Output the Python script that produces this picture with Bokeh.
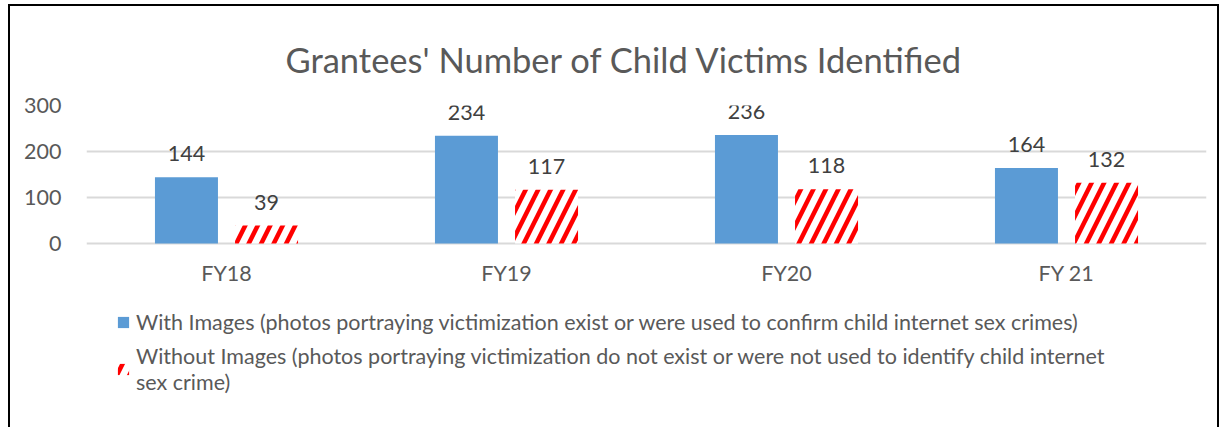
from bokeh.plotting import figure
from bokeh.models import ColumnDataSource, FactorRange, Legend, LegendItem, LabelSet
from bokeh.core.properties import value
from bokeh.transform import dodge
from bokeh.embed import file_html
from bokeh.resources import INLINE

categories = ["FY18", "FY19", "FY20", "FY 21"]
with_images = [144, 234, 236, 164]
without_images = [39, 117, 118, 132]
y_ticks = [0, 100, 200, 300]
title_text = "Grantees' Number of Child Victims Identified"
label_with = "With Images (photos portraying victimization exist or were used to confirm child internet sex crimes)"
label_without = ("Without Images (photos portraying victimization do not exist or were not used to identify child internet\n"
                 "sex crime)")

FONT = "Lato"
GREY = "#595959"
FS = "21.5px"

src = ColumnDataSource(dict(cat=categories, w=with_images, wo=without_images,
                            wl=[str(v) for v in with_images], wol=[str(v) for v in without_images]))

# lower part of the frame (below 0) is reserved for the legend
p = figure(x_range=FactorRange(*categories, range_padding=0), y_range=(-400, 300),
           frame_width=1120, frame_height=322, output_backend="svg", toolbar_location=None,
           min_border_left=76, min_border_right=11, min_border_top=99, min_border_bottom=0)
p.styles = {"border-top": "2px solid black", "border-left": "2px solid black",
            "border-right": "2px solid black", "margin-left": "8px", "margin-top": "4px"}

p.title.text = title_text
p.title.align = "left"
p.title.text_font = FONT
p.title.text_font_size = "34.5px"
p.title.text_font_style = "normal"
p.title.text_color = GREY
p.title.standoff = 52
p.title.offset = 199

r1 = p.vbar(x=dodge("cat", -0.143, range=p.x_range), top="w", width=0.225, source=src,
            fill_color="#5B9BD5", line_color=None)
r2 = p.vbar(x=dodge("cat", 0.143, range=p.x_range), top="wo", width=0.225, source=src,
            fill_color="white", line_color=None, hatch_pattern="/", hatch_color="#FF0000",
            hatch_weight=4.5, hatch_scale=25)

for col, ycol, off in (("wl", "w", -0.143), ("wol", "wo", 0.143)):
    ls = LabelSet(x=dodge("cat", off, range=p.x_range), y=ycol,
                  text=col, source=src, text_align="center", text_baseline="alphabetic", y_offset=16,
                  text_font=value(FONT), text_font_size=value(FS), text_color="#404040")
    p.add_layout(ls)

p.yaxis.ticker = y_ticks
p.yaxis.axis_line_color = None
p.yaxis.major_tick_line_color = None
p.yaxis.minor_tick_line_color = None
p.yaxis.major_label_standoff = 19
p.xaxis.fixed_location = 0
p.xaxis.axis_line_color = None
p.xaxis.major_tick_line_color = None
p.xaxis.major_label_standoff = 10
for ax in (p.xaxis, p.yaxis):
    ax.major_label_text_font = FONT
    ax.major_label_text_font_size = FS
    ax.major_label_text_color = GREY

p.xgrid.grid_line_color = None
p.ygrid.grid_line_color = "#D9D9D9"
p.ygrid.grid_line_width = 2
p.outline_line_color = None

legend = Legend(items=[LegendItem(label=label_with, renderers=[r1]),
                       LegendItem(label=label_without, renderers=[r2])],
                location=(30, 32), orientation="vertical",
                label_text_font=FONT, label_text_font_size=FS, label_text_color=GREY,
                glyph_width=14, glyph_height=14, spacing=8, padding=0, margin=0,
                border_line_color=None, background_fill_alpha=0, label_standoff=6)
p.add_layout(legend, "center")

open("out.html", "w").write(file_html(p, INLINE))
